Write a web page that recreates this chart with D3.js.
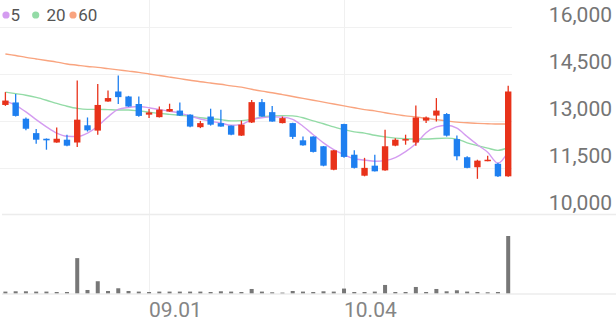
<!DOCTYPE html>
<html><head><meta charset="utf-8">
<script src="https://cdn.jsdelivr.net/npm/d3@7/dist/d3.min.js"></script>
<style>
html,body{margin:0;padding:0;background:#fff;}
svg{display:block;font-family:Roboto,"Noto Sans",sans-serif;}
</style></head><body>
<div id="chart"></div>
<script>
const dates = ["08.11","08.14","08.16","08.17","08.18","08.21","08.22","08.23","08.24","08.25","08.28","08.29","08.30","08.31",
"09.01","09.04","09.05","09.06","09.07","09.08","09.11","09.12","09.13","09.14","09.15","09.18","09.19","09.20","09.21","09.22","09.25","09.26","09.27",
"10.04","10.05","10.06","10.10","10.11","10.12","10.13","10.16","10.17","10.18","10.19","10.20","10.23","10.24","10.25","10.26","10.27"];
const open  = [13500,13580,13060,12600,12420,12300,12390,12300,12850,12680,13610,13930,13770,13530,13190,13110,13290,13320,13190,12790,13130,12920,12840,12520,12940,13590,13270,12920,12920,12370,12490,12180,11430,12890,11910,11240,11560,11410,12200,12370,12300,13000,13160,13210,12410,11830,11510,11710,11620,11220];
const high  = [13910,13850,13100,12730,12430,12780,12550,14280,13100,14170,13960,14440,13790,13770,13370,13450,13540,13580,13200,12990,13380,13350,12840,13000,13660,13690,13470,13130,12930,12490,12500,12190,12060,12900,12050,11810,11910,12710,12440,12550,13480,13130,13720,13240,12520,11860,11750,11880,11650,14110];
const low   = [13470,13130,12690,12260,12070,12290,12180,12160,12650,12550,13600,13530,13440,13120,13080,13100,13280,13150,12790,12760,12840,12800,12530,12510,12920,13120,12960,12910,12410,12200,11980,11540,11410,11810,11470,11220,11370,11400,12180,12230,12200,12920,12970,12490,11730,11480,11140,11700,11200,11210];
const close = [13640,13150,12740,12390,12370,12420,12200,13030,12690,13500,13720,13750,13450,13150,13260,13350,13370,13160,12810,12920,12870,12810,12550,12870,13590,13130,12970,13080,12480,12210,12000,11560,12050,11840,11490,11490,11380,12180,12390,12410,13100,13100,13320,12520,11860,11490,11720,11750,11220,13930];
const ma5   = [13620,13490,13280,13030,12800,12600,12500,12490,12600,12820,13120,13360,13420,13450,13410,13350,13300,13240,13150,13050,12980,12920,12850,12880,13030,13090,13120,13110,13040,12820,12550,12290,12070,11910,11780,11740,11700,11720,11820,12010,12260,12610,12800,12850,12760,12490,12230,11990,11640,12010];
const ma20  = [13910,13860,13810,13740,13650,13550,13460,13390,13360,13360,13350,13340,13340,13310,13270,13230,13200,13170,13140,13090,13060,13030,12990,13000,13040,13120,13150,13160,13150,13090,12990,12900,12800,12710,12640,12600,12530,12480,12440,12420,12410,12410,12430,12440,12410,12290,12200,12120,12050,12140];
const ma60  = [15130,15080,15020,14970,14920,14870,14810,14770,14730,14700,14660,14620,14580,14540,14490,14440,14390,14340,14290,14240,14200,14160,14110,14070,14000,13940,13890,13830,13770,13710,13650,13590,13530,13470,13410,13350,13310,13250,13200,13150,13120,13070,13030,12990,12950,12930,12910,12900,12890,12890];
const volume = [17,20,20,17,17,13,13,350,33,120,23,50,23,17,13,17,17,17,17,17,13,20,17,13,43,17,10,7,23,17,13,20,17,47,13,13,17,83,13,13,63,13,43,20,30,17,13,10,13,570];
const priceTicks = [16000,14500,13000,11500,10000];
const dateTicks = ["09.01","10.04"];
const legendLabels = ["5","20","60"];

const W = 616, H = 321;
const colors = {up:"#e8321a", down:"#1e7ff0", ma5:"#d49cf0", ma20:"#93dba6", ma60:"#f9a47f", vol:"#777777"};

const svg = d3.select("#chart").append("svg").attr("width",W).attr("height",H);
svg.append("rect").attr("width",W).attr("height",H).attr("fill","#fff");

const x = d3.scalePoint().domain(dates).range([5.4, 508.2]);
const y = d3.scaleLinear().domain([10000,16000]).range([214.5, 26.7]);
const yv = d3.scaleLinear().domain([0, d3.max(volume)]).range([293.3, 236]);

// horizontal gridlines
svg.append("g").selectAll("line").data(priceTicks.filter(t=>t!==10000)).join("line")
  .attr("x1",0).attr("x2",512).attr("y1",d=>Math.round(y(d))+0.5).attr("y2",d=>Math.round(y(d))+0.5)
  .attr("stroke","#f1f1f1").attr("stroke-width",1);
// vertical gridlines
svg.append("g").selectAll("line").data(dateTicks).join("line")
  .attr("x1",d=>Math.round(x(d))+0.5).attr("x2",d=>Math.round(x(d))+0.5).attr("y1",0).attr("y2",294)
  .attr("stroke","#f0f0f0").attr("stroke-width",1);
// separator & volume baseline
svg.append("line").attr("x1",2).attr("x2",616).attr("y1",y(10000)).attr("y2",y(10000)).attr("stroke","#ececec").attr("stroke-width",1.5);
svg.append("line").attr("x1",2).attr("x2",616).attr("y1",294).attr("y2",294).attr("stroke","#ececec").attr("stroke-width",1.5);

// y labels
svg.append("g").selectAll("text").data(priceTicks).join("text")
  .attr("x",612).attr("y",d=>y(d)-5).attr("text-anchor","end")
  .attr("font-size",21).attr("fill","#757575").text(d=>d3.format(",")(d));
// x labels
svg.append("g").selectAll("text").data(dateTicks).join("text")
  .attr("x",d=>x(d)).attr("y",316.5).attr("text-anchor","start")
  .attr("font-size",21).attr("fill","#858585").text(d=>d);

// MA lines
const line = arr => d3.line().x((d,i)=>x(dates[i])).y(d=>y(d)).curve(d3.curveMonotoneX)(arr);
[["ma60",ma60],["ma20",ma20],["ma5",ma5]].forEach(([k,arr])=>{
  svg.append("path").attr("d",line(arr)).attr("fill","none").attr("stroke",colors[k]).attr("stroke-width",1.4);
});

// candles
const idx = d3.range(dates.length);
const cg = svg.append("g");
cg.selectAll("line").data(idx).join("line")
  .attr("x1",i=>x(dates[i])).attr("x2",i=>x(dates[i]))
  .attr("y1",i=>y(high[i])).attr("y2",i=>y(low[i]))
  .attr("stroke",i=>close[i]>=open[i]?colors.up:colors.down).attr("stroke-width",1.3);
cg.selectAll("rect").data(idx).join("rect")
  .attr("x",i=>x(dates[i])-3.2).attr("width",6.4)
  .attr("y",i=>y(Math.max(open[i],close[i])))
  .attr("height",i=>Math.max(1.5, Math.abs(y(open[i])-y(close[i]))))
  .attr("fill",i=>close[i]>=open[i]?colors.up:colors.down);

// volume
svg.append("g").selectAll("rect").data(idx).join("rect")
  .attr("x",i=>x(dates[i])-2).attr("width",4)
  .attr("y",i=>yv(volume[i])).attr("height",i=>yv(0)-yv(volume[i]))
  .attr("fill",colors.vol);

// legend
const lg = svg.append("g");
const lx = [6, 35.7, 73];
const tx = [10.5, 46.5, 78.3];
legendLabels.forEach((l,i)=>{
  lg.append("circle").attr("cx",lx[i]).attr("cy",15).attr("r",3.6).attr("fill",[colors.ma5,colors.ma20,colors.ma60][i]);
  lg.append("text").attr("x",tx[i]).attr("y",21.3).attr("font-size",17).attr("fill","#555").text(l);
});
</script>
</body></html>
